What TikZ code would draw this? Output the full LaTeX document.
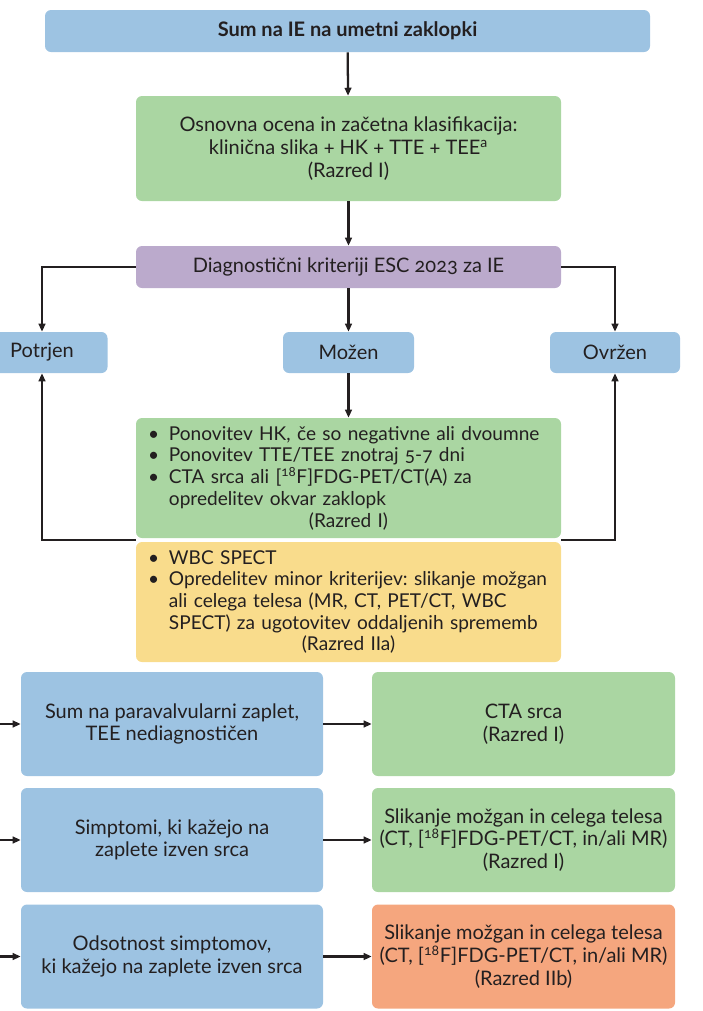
\documentclass[tikz,border=0pt]{standalone}
\usepackage{fontspec}
\setmainfont[Numbers=OldStyle]{Lato}
\usetikzlibrary{positioning,calc,arrows.meta}
\definecolor{bluebox}{RGB}{157,195,226}
\definecolor{greenbox}{RGB}{170,214,162}
\definecolor{purplebox}{RGB}{187,170,204}
\definecolor{yellowbox}{RGB}{249,220,140}
\definecolor{orangebox}{RGB}{245,166,126}
\definecolor{textgray}{RGB}{35,31,32}
\newcommand{\bul}{\makebox[1.1em][l]{\textbullet}}
\newcommand{\ind}{\hspace*{1.1em}}
\frenchspacing
\hyphenpenalty=10000

\begin{document}
\begin{tikzpicture}[x=0.75pt, y=-0.75pt,
		box/.style={rounded corners=4.5pt, inner sep=3pt, align=center, text=textgray,
			font=\fontsize{15}{17}\selectfont},
		boxsize/.style 2 args={minimum width=#1*0.75pt, minimum height=#2*0.75pt},
		listbox/.style={box, align=left, inner xsep=9pt, text width=300.75pt,
			font=\fontsize{14.3}{16.3}\selectfont},
		arr/.style={-{Triangle[length=6pt,width=5pt]}, line width=1.7pt, draw=textgray},
		ln/.style={line width=1.7pt, draw=textgray}]
	\useasboundingbox (0,0) rectangle (703,1011);
	% top of the chart
	\node [box, fill=bluebox, boxsize={605}{42}, font=\fontsize{15}{17}\selectfont\bfseries] (sum) at (347.5,31) {Sum na IE na umetni zaklopki};
	\node [box, fill=greenbox, boxsize={425}{105}] (ocena) at (348.5,148.5) {Osnovna ocena in začetna klasifikacija:\\ klinična slika + HK + TTE + TEE\textsuperscript{a}\\ (Razred I)};
	\node [box, fill=purplebox, boxsize={425}{42}] (krit) at (348.5,267) {Diagnostični kriteriji ESC 2023 za IE};
	\node [box, fill=bluebox, boxsize={131}{41}] (potrjen) at (42,352.5) {Potrjen};
	\node [box, fill=bluebox, boxsize={131}{41}] (mozen) at (348.5,352.5) {Možen};
	\node [box, fill=bluebox, boxsize={130}{41}] (ovrzen) at (615,352.5) {Ovržen};
	\node [listbox, fill=greenbox, boxsize={425}{120}] (ponov) at (348.5,478) {\bul Ponovitev HK, če so negativne ali dvoumne\\
		\bul Ponovitev TTE/TEE znotraj 5-7 dni\\
		\bul CTA srca ali [\textsuperscript{18}F]FDG-PET/CT(A) za\\
		\ind opredelitev okvar zaklopk\\
		\makebox[\linewidth]{(Razred I)}};
	\node [listbox, fill=yellowbox, boxsize={425}{120}] (wbc) at (348.5,602) {\bul WBC SPECT\\
		\bul Opredelitev minor kriterijev: slikanje možgan\\
		\ind ali celega telesa (MR, CT, PET/CT, WBC\\
		\ind SPECT) za ugotovitev oddaljenih sprememb\\
		\makebox[\linewidth]{(Razred IIa)}};
	% bottom rows
	\node [box, fill=bluebox, boxsize={302}{104}] (zaplet) at (172,724) {Sum na paravalvularni zaplet,\\ TEE nediagnostičen};
	\node [box, fill=bluebox, boxsize={302}{104}] (simpt) at (172,840) {Simptomi, ki kažejo na\\ zaplete izven srca};
	\node [box, fill=bluebox, boxsize={302}{104}] (odsot) at (172,956.5) {Odsotnost simptomov,\\ ki kažejo na zaplete izven srca};
	\node [box, fill=greenbox, boxsize={303}{104}] (cta) at (523.5,724) {CTA srca\\ (Razred I)};
	\node [box, fill=greenbox, boxsize={303}{104}] (slik) at (523.5,840) {Slikanje možgan in celega telesa\\ (CT, [\textsuperscript{18}F]FDG-PET/CT, in/ali MR)\\ (Razred I)};
	\node [box, fill=orangebox, boxsize={303}{104}] (slikb) at (523.5,956.5) {Slikanje možgan in celega telesa\\ (CT, [\textsuperscript{18}F]FDG-PET/CT, in/ali MR)\\ (Razred IIb)};
	\coordinate (in1) at (0,724);
	\coordinate (in2) at (0,840);
	\coordinate (in3) at (0,956.5);
	% connectors
	\draw [arr] (sum) -- (ocena);
	\draw [arr] (ocena) -- (krit);
	\draw [arr] (krit) -- (mozen);
	\draw [arr] (krit.west) -| (potrjen);
	\draw [arr] (krit.east) -| (ovrzen);
	\draw [arr] (mozen) -- (ponov);
	\draw [arr] ($(ponov.south west)!.5!(wbc.north west)$) -| (potrjen);
	\draw [arr] ($(ponov.south east)!.5!(wbc.north east)$) -| (ovrzen);
	\draw [arr] (in1) -- (zaplet);
	\draw [arr] (in2) -- (simpt);
	\draw [arr] (in3) -- (odsot);
	\draw [arr] (zaplet) -- (cta);
	\draw [arr] (simpt) -- (slik);
	\draw [arr] (odsot) -- (slikb);
\end{tikzpicture}
\end{document}
